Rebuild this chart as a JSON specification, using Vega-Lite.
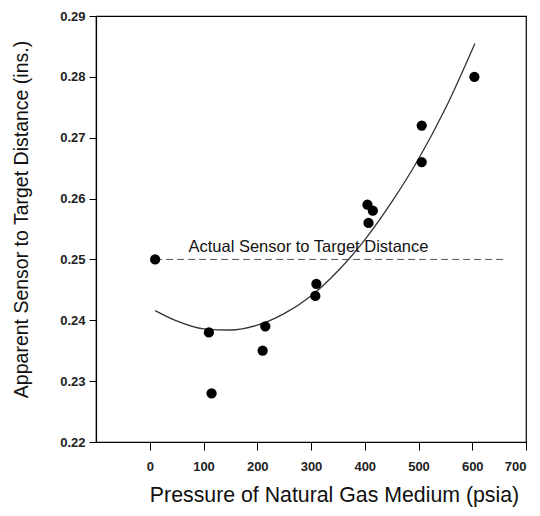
{
  "$schema": "https://vega.github.io/schema/vega-lite/v6.json",
  "width": 430,
  "height": 426,
  "autosize": {"type": "none"},
  "padding": {"left": 96, "top": 16, "right": 14, "bottom": 74},
  "background": "white",
  "config": {
    "font": "Liberation Sans",
    "view": {"stroke": "black", "strokeWidth": 1.2}
  },
  "datasets": {
    "points": [
      {"pressure": 10, "distance": 0.250},
      {"pressure": 110, "distance": 0.238},
      {"pressure": 115, "distance": 0.228},
      {"pressure": 215, "distance": 0.239},
      {"pressure": 210, "distance": 0.235},
      {"pressure": 310, "distance": 0.246},
      {"pressure": 308, "distance": 0.244},
      {"pressure": 405, "distance": 0.259},
      {"pressure": 415, "distance": 0.258},
      {"pressure": 407, "distance": 0.256},
      {"pressure": 506, "distance": 0.272},
      {"pressure": 506, "distance": 0.266},
      {"pressure": 604, "distance": 0.280}
    ],
    "fit": [
      {"pressure": 10, "distance": 0.2416},
      {"pressure": 50, "distance": 0.2399},
      {"pressure": 100, "distance": 0.2386},
      {"pressure": 150, "distance": 0.2384},
      {"pressure": 200, "distance": 0.2392},
      {"pressure": 250, "distance": 0.2411},
      {"pressure": 300, "distance": 0.2440},
      {"pressure": 350, "distance": 0.2481},
      {"pressure": 400, "distance": 0.2532},
      {"pressure": 450, "distance": 0.2594},
      {"pressure": 500, "distance": 0.2665},
      {"pressure": 550, "distance": 0.2748},
      {"pressure": 605, "distance": 0.2855}
    ],
    "actual": [
      {"pressure": 10, "distance": 0.25},
      {"pressure": 663, "distance": 0.25}
    ],
    "label": [
      {"pressure": 72, "distance": 0.25, "text": "Actual Sensor to Target Distance"}
    ]
  },
  "encoding": {
    "x": {
      "field": "pressure",
      "type": "quantitative",
      "scale": {"domain": [-100, 700], "nice": false, "zero": false},
      "axis": {
        "title": "Pressure of Natural Gas Medium (psia)",
        "values": [0, 100, 200, 300, 400, 500, 600, 700],
        "grid": false,
        "domainColor": "black",
        "domainWidth": 1.2,
        "tickColor": "black",
        "tickSize": 8,
        "labelFont": "Liberation Sans",
        "labelFontSize": 13,
        "labelFontWeight": "bold",
        "labelColor": "#222",
        "labelPadding": 10,
        "titleFont": "Liberation Sans",
        "titleFontSize": 21.3,
        "titleFontWeight": "normal",
        "titleColor": "#111",
        "titleX": 238,
        "titleY": 42,
        "titleBaseline": "top"
      }
    },
    "y": {
      "field": "distance",
      "type": "quantitative",
      "scale": {"domain": [0.22, 0.29], "nice": false, "zero": false},
      "axis": {
        "title": "Apparent Sensor to Target Distance (ins.)",
        "values": [0.22, 0.23, 0.24, 0.25, 0.26, 0.27, 0.28, 0.29],
        "format": ".2f",
        "grid": false,
        "domainColor": "black",
        "domainWidth": 1.2,
        "tickColor": "black",
        "tickSize": 7,
        "labelFont": "Liberation Sans",
        "labelFontSize": 13,
        "labelFontWeight": "bold",
        "labelColor": "#222",
        "labelPadding": 4,
        "titleFont": "Liberation Sans",
        "titleFontSize": 19.5,
        "titleFontWeight": "normal",
        "titleColor": "#111",
        "titleX": -65,
        "titleY": 203,
        "titleBaseline": "bottom"
      }
    }
  },
  "layer": [
    {
      "data": {"name": "actual"},
      "mark": {"type": "line", "color": "#555", "strokeWidth": 1, "strokeDash": [7, 4]}
    },
    {
      "data": {"name": "fit"},
      "mark": {"type": "line", "color": "#333", "strokeWidth": 1.3, "interpolate": "monotone"}
    },
    {
      "data": {"name": "points"},
      "mark": {"type": "circle", "color": "black", "size": 105, "opacity": 1}
    },
    {
      "data": {"name": "label"},
      "mark": {"type": "text", "align": "left", "baseline": "bottom", "dy": -4, "fontSize": 16.5, "color": "#111", "font": "Liberation Sans"},
      "encoding": {"text": {"field": "text"}}
    }
  ]
}
